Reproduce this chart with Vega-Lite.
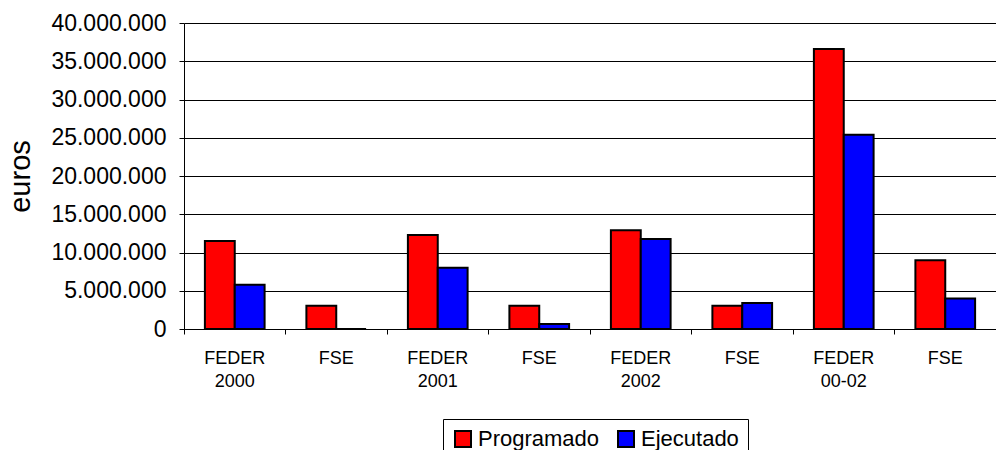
{
  "$schema": "https://vega.github.io/schema/vega-lite/v6.json",
  "autosize": {"type": "none"},
  "width": 812,
  "height": 306,
  "padding": {"left": 184, "top": 23, "right": 0, "bottom": 121},
  "background": "white",
  "data": {
    "values": [
      {"cat": "FEDER|2000", "serie": "Programado", "v": 11500000},
      {"cat": "FEDER|2000", "serie": "Ejecutado", "v": 5800000},
      {"cat": "FSE|2000", "serie": "Programado", "v": 3050000},
      {"cat": "FSE|2000", "serie": "Ejecutado", "v": 0},
      {"cat": "FEDER|2001", "serie": "Programado", "v": 12300000},
      {"cat": "FEDER|2001", "serie": "Ejecutado", "v": 8000000},
      {"cat": "FSE|2001", "serie": "Programado", "v": 3050000},
      {"cat": "FSE|2001", "serie": "Ejecutado", "v": 650000},
      {"cat": "FEDER|2002", "serie": "Programado", "v": 12900000},
      {"cat": "FEDER|2002", "serie": "Ejecutado", "v": 11750000},
      {"cat": "FSE|2002", "serie": "Programado", "v": 3050000},
      {"cat": "FSE|2002", "serie": "Ejecutado", "v": 3400000},
      {"cat": "FEDER|00-02", "serie": "Programado", "v": 36600000},
      {"cat": "FEDER|00-02", "serie": "Ejecutado", "v": 25400000},
      {"cat": "FSE|00-02", "serie": "Programado", "v": 8980000},
      {"cat": "FSE|00-02", "serie": "Ejecutado", "v": 4000000}
    ]
  },
  "mark": {"type": "bar", "stroke": "black", "strokeWidth": 2},
  "encoding": {
    "x": {
      "field": "cat",
      "type": "nominal",
      "sort": null,
      "scale": {"paddingInner": 0, "paddingOuter": 0},
      "axis": {
        "title": null,
        "bandPosition": 0,
        "labelAngle": 0,
        "labelFontSize": 18,
        "labelPadding": 15,
        "labelLineHeight": 23,
        "labelBaseline": "top",
        "labelExpr": "indexof(datum.value, 'FSE') == 0 ? 'FSE' : split(datum.value, '|')",
        "tickSize": 5,
        "tickColor": "black",
        "domainColor": "black",
        "grid": false
      }
    },
    "xOffset": {
      "field": "serie",
      "type": "nominal",
      "sort": ["Programado", "Ejecutado"],
      "scale": {"paddingInner": 0, "paddingOuter": 0.7}
    },
    "y": {
      "field": "v",
      "type": "quantitative",
      "scale": {"domain": [0, 40000000], "nice": false},
      "axis": {
        "title": "euros",
        "values": [0, 5000000, 10000000, 15000000, 20000000, 25000000, 30000000, 35000000, 40000000],
        "format": ",d",
        "labelFontSize": 23,
        "labelPadding": 13,
        "tickSize": 5,
        "tickColor": "black",
        "domainColor": "black",
        "grid": true,
        "gridColor": "black",
        "gridWidth": 1,
        "titleFontSize": 29,
        "titleFontWeight": "normal",
        "titleX": -164,
        "titleY": 153,
        "titleAlign": "center",
        "titleBaseline": "middle",
        "titleAngle": -90
      }
    },
    "color": {
      "field": "serie",
      "type": "nominal",
      "sort": ["Programado", "Ejecutado"],
      "scale": {"domain": ["Programado", "Ejecutado"], "range": ["#FF0000", "#0000FF"]},
      "legend": {
        "title": null,
        "orient": "none",
        "legendX": 259,
        "legendY": 396,
        "direction": "horizontal",
        "symbolType": "square",
        "symbolSize": 256,
        "symbolStrokeColor": "black",
        "symbolStrokeWidth": 2,
        "symbolOpacity": 1,
        "labelFontSize": 22,
        "labelOffset": 4,
        "columnPadding": 14,
        "padding": 9,
        "strokeColor": "black",
        "fillColor": "white"
      }
    }
  },
  "config": {
    "font": "Liberation Sans",
    "view": {"stroke": null},
    "axis": {"labelColor": "black", "titleColor": "black", "labelFont": "Liberation Sans", "titleFont": "Liberation Sans"},
    "legend": {"labelColor": "black", "labelFont": "Liberation Sans"},
    "locale": {"number": {"decimal": ",", "thousands": ".", "grouping": [3], "currency": ["", " €"]}}
  }
}
